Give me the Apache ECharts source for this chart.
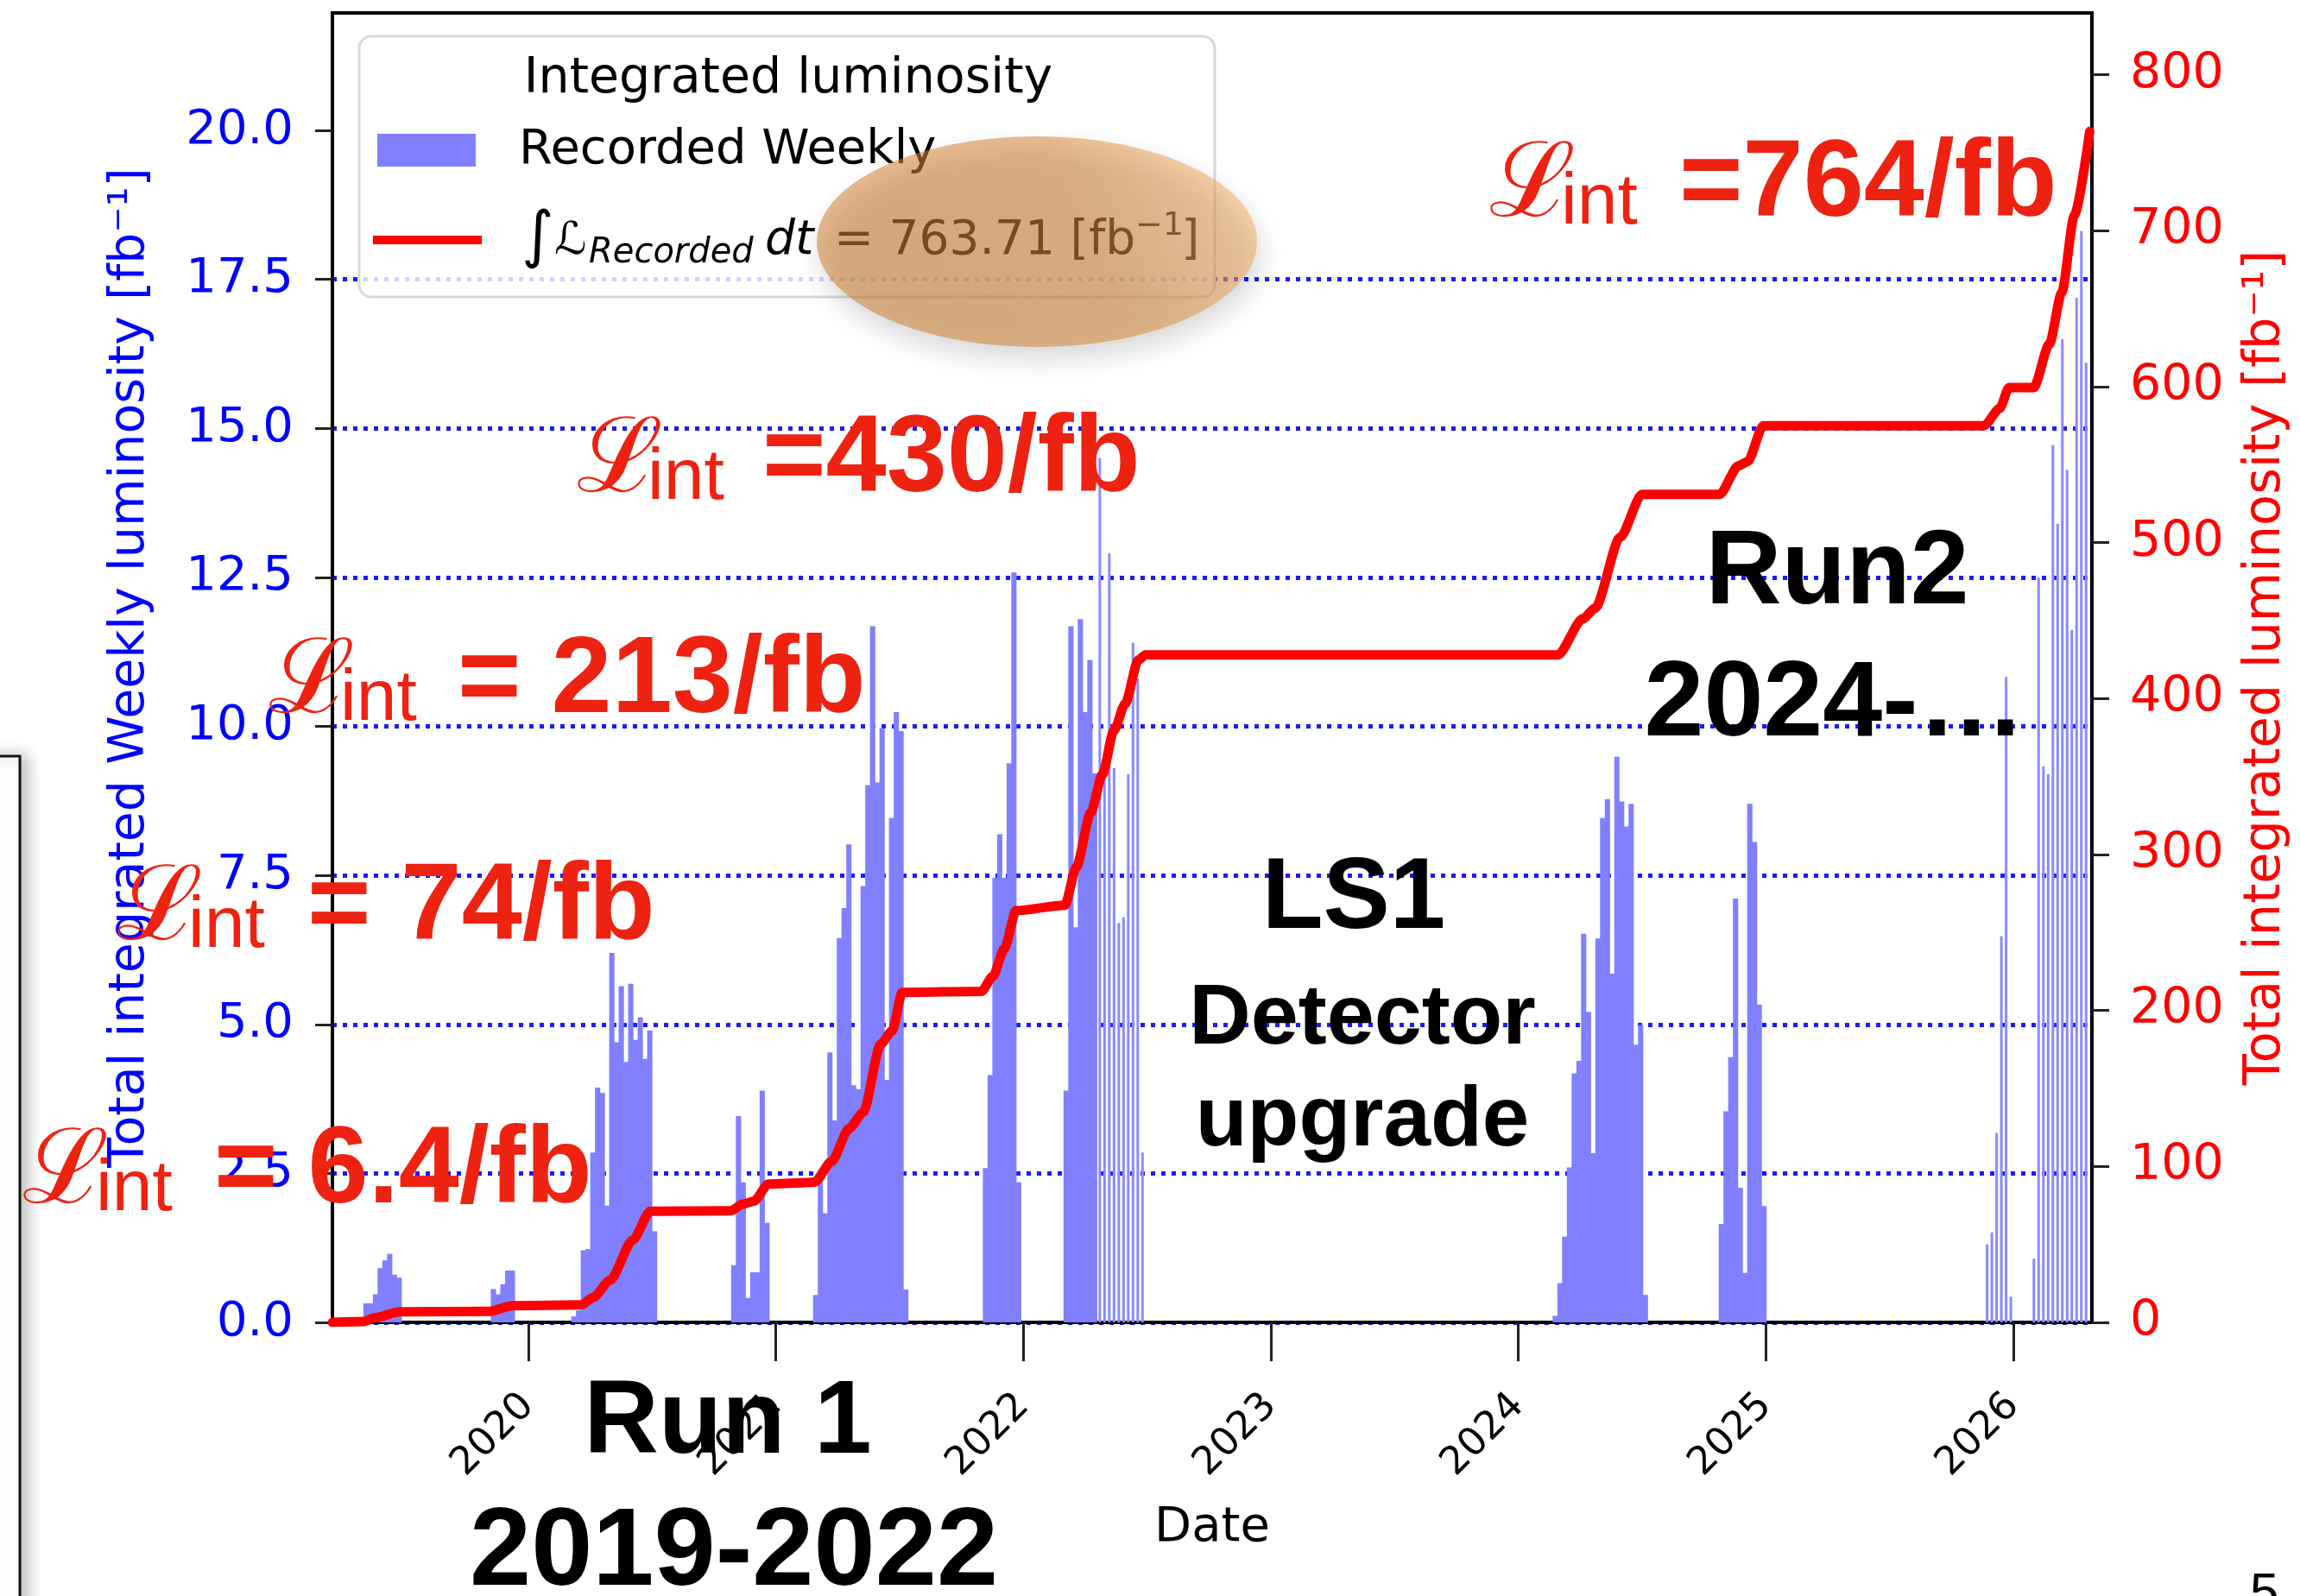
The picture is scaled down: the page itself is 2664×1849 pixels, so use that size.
<!DOCTYPE html>
<html>
<head>
<meta charset="utf-8">
<title>Integrated luminosity</title>
<script src="https://cdn.jsdelivr.net/npm/echarts@6.0.0/dist/echarts.min.js"></script>
<style>
	html,body{ margin:0; padding:0; background:#fff;}
	#main{ width:2664px; height:1849px;}
</style>
</head>
<body>
<div id="main"></div>
<script>
// one week expressed in years (x axis is in fractional years)
var WEEK = 7 / 365.25;

// weekly recorded luminosity [fb^-1], one array per running period
var startA = 2019.334, weeklyA = [0.32, 0.32, 0.47, 0.91, 1.04, 1.15, 0.80, 0.75];
var startB = 2019.849, weeklyB = [0.56, 0.47, 0.64, 0.87, 0.87];
var startC = 2020.174, weeklyC = [0.10, 0.20, 1.21, 1.23, 2.85, 3.94, 3.85, 1.96, 6.20, 4.70, 5.64, 4.37, 5.68, 4.74, 5.12, 4.42, 4.90, 1.53];
var startD = 2020.820, weeklyD = [0.96, 3.46, 2.35, 0.41, 0.84, 0.84, 3.89, 1.67];
var startE = 2021.151, weeklyE = [0.46, 2.54, 1.83, 4.53, 3.39, 6.45, 6.95, 8.02, 3.98, 3.91, 7.32, 9.01, 11.68, 9.06, 9.97, 4.07, 8.46, 10.24, 9.92, 0.55];
var startF = 2021.837, weeklyF = [2.59, 4.15, 7.46, 8.19, 7.46, 9.38, 12.58, 2.35];
var startG = 2022.163, weeklyG = [3.89, 11.68, 6.63, 11.80, 10.24, 11.11, 9.21];
var startH = 2024.139, weeklyH = [0.11, 0.66, 1.44, 2.60, 4.18, 4.39, 6.52, 5.21, 2.84, 6.44, 8.46, 8.78, 5.85, 9.49, 8.74, 8.32, 8.70, 4.66, 4.99, 0.46];
var startI = 2024.810, weeklyI = [1.65, 3.54, 4.45, 7.11, 2.26, 0.83, 8.70, 8.06, 5.33, 1.95];
// periods drawn as thin bars in the original plot
var startG2 = 2022.300, weeklyG2 = [14.5, 9.3, 12.9, 9.3, 6.7, 6.8, 9.2, 11.4, 10.8, 2.85];
var startJ = 2025.885, weeklyJ = [1.31, 1.51, 3.18, 6.48, 10.83, 0.43];
var startK = 2026.074, weeklyK = [1.07, 12.5, 9.33, 9.2, 14.72, 13.4, 16.5, 14.3, 11.62, 17.19, 18.31, 16.1];

// integrated luminosity [fb^-1]
var lumiYear = [2019.209, 2019.334, 2019.377, 2019.481, 2019.843, 2019.935, 2020.214, 2020.262, 2020.331, 2020.423, 2020.493,
	2020.820, 2020.866, 2020.911, 2020.971, 2021.110, 2021.157, 2021.226, 2021.296, 2021.354, 2021.424, 2021.471, 2021.511,
	2021.831, 2021.878, 2021.924, 2021.971, 2022.168, 2022.215, 2022.273, 2022.320, 2022.366, 2022.412, 2022.465, 2022.494,
	2024.160, 2024.261, 2024.311, 2024.412, 2024.500, 2024.814, 2024.889, 2024.927, 2024.990, 2025.882, 2025.945, 2025.983,
	2026.083, 2026.146, 2026.196, 2026.247, 2026.309];
var lumiTotal = [0, 0.5, 2.9, 6.8, 7.0, 10.7, 11.2, 15.9, 27, 52.8, 71.2,
	71.6, 75.8, 77.7, 88.7, 89.5, 90, 103.2, 124.2, 134.7, 178.4, 187.1, 211.6,
	212.3, 222, 239.7, 264, 267.5, 292, 326.9, 351.4, 379.3, 396.7, 424.7, 428,
	428, 451.2, 458, 503.5, 531, 531, 549.2, 552, 575, 575, 586, 599.5,
	599.5, 627.4, 660.4, 710, 763.71];

// tick labels
var yearTicks = [2020, 2021, 2022, 2023, 2024, 2025, 2026];
var weeklyTicks = [0, 2.5, 5, 7.5, 10, 12.5, 15, 17.5, 20];
var totalTicks = [0, 100, 200, 300, 400, 500, 600, 700, 800];

var expand = function(start, vals){
	return vals.map(function(v, i){ return [start + i * WEEK, v]; });
};
var wideBars = [].concat(
	expand(startA, weeklyA), expand(startB, weeklyB), expand(startC, weeklyC),
	expand(startD, weeklyD), expand(startE, weeklyE), expand(startF, weeklyF),
	expand(startG, weeklyG), expand(startH, weeklyH), expand(startI, weeklyI)
);
var thinBars = [].concat(expand(startG2, weeklyG2), expand(startJ, weeklyJ), expand(startK, weeklyK));
var lumiLine = lumiYear.map(function(x, i){ return [x, lumiTotal[i]]; });

var barItem = function(thin){
	return function(params, api){
		var x = api.value(0), v = api.value(1);
		var p0 = api.coord([x, 0]);
		var p1 = api.coord([x + WEEK, v]);
		var w = p1[0] - p0[0];
		var left = thin ? p0[0] + w / 2 - 1.5 : p0[0];
		return {
			type: 'rect',
			shape: {x: left, y: p1[1], width: thin ? 3 : w + 0.6, height: p0[1] - p1[1]},
			style: {fill: thin ? '#8a8aff' : '#8080ff'}
		};
	};
};

// text placed by baseline
var txt = function(x, base, s, size, o){
	o = o || {};
	return {
		type: 'text', z: o.z || 200, x: x, y: base - 0.31 * size,
		style: {
			text: s, fill: o.color || '#000', fontSize: size,
			fontFamily: o.family || 'Liberation Sans', fontWeight: o.weight || 'normal', fontStyle: o.style || 'normal',
			align: o.align || 'left', textAlign: o.align || 'left',
			verticalAlign: 'middle', textVerticalAlign: 'middle'
		}
	};
};
var RED = '#ee2211';
var lint = function(xL, xInt, xEq, base, rest){
	return [
		txt(xL, base + 2, 'ℒ', 120, {color: RED, family: 'DejaVu Serif'}),
		txt(xInt, base + 8, 'int', 84, {color: RED}),
		txt(xEq, base, rest, 126, {color: RED, weight: 'bold'})
	];
};

var graphics = [
	// piece of the slide frame on the left
	{type: 'rect', z: 90, shape: {x: -20, y: 876, width: 43, height: 1040},
		style: {fill: '#fff', stroke: '#111', lineWidth: 3, shadowBlur: 18, shadowColor: 'rgba(0,0,0,0.25)', shadowOffsetX: 8}},
	// legend
	{type: 'rect', z: 100, shape: {x: 416, y: 42, width: 991, height: 302, r: 14},
		style: {fill: 'rgba(255,255,255,0.8)', stroke: '#d8d8d8', lineWidth: 3}},
	{type: 'rect', z: 110, shape: {x: 437, y: 155, width: 114, height: 38}, style: {fill: '#8080ff'}},
	{type: 'line', z: 110, shape: {x1: 432, y1: 278, x2: 558, y2: 278}, style: {stroke: '#ff0000', lineWidth: 10}},
	txt(913, 110, 'Integrated luminosity', 57, {family: 'DejaVu Sans', align: 'center', z: 110}),
	txt(601, 192, 'Recorded Weekly', 56, {family: 'DejaVu Sans', z: 110}),
	txt(604, 300, '∫', 72, {family: 'DejaVu Sans', z: 110}),
	txt(642, 297, 'ℒ', 52, {family: 'DejaVu Sans', z: 110}),
	txt(682, 306, 'Recorded', 40, {family: 'DejaVu Sans', style: 'italic', z: 110}),
	txt(886, 297, 'dt', 55, {family: 'DejaVu Sans', style: 'italic', z: 110}),
	txt(966, 297, '= 763.71 [fb', 55, {family: 'DejaVu Sans', z: 110}),
	txt(1315, 274, '−1', 38, {family: 'DejaVu Sans', z: 110}),
	txt(1368, 297, ']', 55, {family: 'DejaVu Sans', z: 110}),
	// highlight ellipse over the total
	{type: 'ellipse', z: 120, shape: {cx: 1201, cy: 280, rx: 255, ry: 122},
		style: {
			fill: {type: 'linear', x: 0, y: 1, x2: 1, y2: 0, colorStops: [
				{offset: 0, color: 'rgba(205,128,50,0.56)'},
				{offset: 0.6, color: 'rgba(214,136,58,0.56)'},
				{offset: 1, color: 'rgba(248,185,118,0.56)'}
			]},
			shadowBlur: 30, shadowColor: 'rgba(0,0,0,0.28)', shadowOffsetX: 4, shadowOffsetY: 14
		}},
	// black labels
	txt(2128, 703, 'Run2', 122, {weight: 'bold', align: 'center'}),
	txt(2125, 856, '2024-…', 124, {weight: 'bold', align: 'center'}),
	txt(1568, 1079, 'LS1', 116, {weight: 'bold', align: 'center'}),
	txt(1578, 1212, 'Detector', 99, {weight: 'bold', align: 'center'}),
	txt(1578, 1330, 'upgrade', 98, {weight: 'bold', align: 'center'}),
	txt(843, 1687, 'Run 1', 120, {weight: 'bold', align: 'center'}),
	txt(850, 1840, '2019-2022', 128, {weight: 'bold', align: 'center'}),
	txt(2606, 1866, '5', 60, {})
].concat(
	lint(1725, 1808, 1945, 254, '=764/fb'),
	lint(668, 750, 883, 573, '=430/fb'),
	lint(311, 394, 530, 829, '= 213/fb'),
	lint(135, 218, 356, 1092, '= 74/fb'),
	lint(26, 111, 248, 1397, '= 6.4/fb')
);

var myChart = echarts.init(document.getElementById('main'));
var option = {
	animation: false,
	textStyle: {fontFamily: 'DejaVu Sans'},
	grid: {left: 385, top: 15, right: 241, bottom: 317, show: true, borderColor: '#000', borderWidth: 4,
		containLabel: false, outerBoundsMode: 'none'},
	xAxis: {
		type: 'value', min: 2019.209, max: 2026.318,
		name: 'Date', nameLocation: 'middle', nameGap: 210, nameMoveOverlap: false,
		nameTextStyle: {color: '#000', fontSize: 56, fontFamily: 'DejaVu Sans'},
		axisLine: {show: true, onZero: false, lineStyle: {color: '#000', width: 4}},
		axisTick: {show: true, customValues: yearTicks, length: 45, lineStyle: {color: '#222', width: 3}},
		axisLabel: {customValues: yearTicks, rotate: 45, margin: 90, color: '#000', fontSize: 45,
			formatter: function(v){ return String(Math.round(v)); }},
		splitLine: {show: false}
	},
	yAxis: [{
		type: 'value', position: 'left', min: 0, max: 21.97, interval: 2.5,
		name: 'Total integrated Weekly luminosity [fb⁻¹]', nameLocation: 'middle', nameRotate: 90, nameGap: 205,
		nameMoveOverlap: false,
		nameTextStyle: {color: '#0000ff', fontSize: 57},
		axisLine: {show: true, onZero: false, lineStyle: {color: '#000', width: 4}},
		axisTick: {show: true, customValues: weeklyTicks, length: 20, lineStyle: {color: '#222', width: 3}},
		axisLabel: {customValues: weeklyTicks, margin: 45, color: '#0000ff', fontSize: 56,
			formatter: function(v){ return v.toFixed(1); }},
		splitLine: {show: true, showMaxLine: false, lineStyle: {color: '#1a1aff', width: 5, type: [5, 7]}}
	}, {
		type: 'value', position: 'right', min: 0, max: 839.7, interval: 100,
		name: 'Total integrated luminosity [fb⁻¹]', nameLocation: 'middle', nameRotate: 90, nameGap: 172,
		nameMoveOverlap: false,
		nameTextStyle: {color: '#ff0000', fontSize: 59},
		axisLine: {show: true, onZero: false, lineStyle: {color: '#000', width: 4}},
		axisTick: {show: true, customValues: totalTicks, length: 20, lineStyle: {color: '#222', width: 3}},
		axisLabel: {customValues: totalTicks, margin: 44, color: '#ff0000', fontSize: 57},
		splitLine: {show: false}
	}],
	series: [{
		type: 'custom', name: 'Recorded Weekly', yAxisIndex: 0, clip: true, z: 2,
		encode: {x: 0, y: 1}, data: wideBars, renderItem: barItem(false)
	}, {
		type: 'custom', name: 'Recorded Weekly thin', yAxisIndex: 0, clip: true, z: 2,
		encode: {x: 0, y: 1}, data: thinBars, renderItem: barItem(true)
	}, {
		type: 'line', name: 'Integrated', yAxisIndex: 1, data: lumiLine, showSymbol: false, symbol: 'none',
		clip: true, z: 5, smooth: 0.25, smoothMonotone: 'x',
		lineStyle: {color: '#ff0000', width: 11, cap: 'round', join: 'round'}
	}],
	graphic: graphics
};
myChart.setOption(option);
</script>
</body>
</html>
